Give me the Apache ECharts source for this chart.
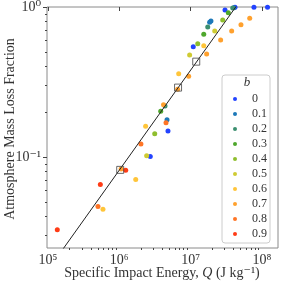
<!DOCTYPE html>
<html>
<head>
<meta charset="utf-8">
<script src="https://cdn.jsdelivr.net/npm/echarts@6/dist/echarts.min.js"></script>
<style>html,body{margin:0;padding:0;background:#fff}#c{width:284px;height:286px}</style>
</head>
<body>
<div id="c"></div>
<script>
// ---- data ----
const bLabels = ['0','0.1','0.2','0.3','0.4','0.5','0.6','0.7','0.8','0.9'];
const pointQ = [3.04e7,4.2e7,3.9e7,4.05e7,3.38e7,7.74e7,1.2e8,6.75e7,5.09e7,3.77e7,
  2.82e7,1.93e7,1.85e7,1.74e7,2.18e7,1.53e7,2.64e7,1.26e7,1.09e7,1.53e7,
  1.68e7,9.7e6,6.81e6,9.4e6,6.59e6,4.17e6,4.38e6,3.81e6,4.67e6,4.52e6,
  2.34e6,4.82e6,3.14e6,2.01e6,2.42e6,2.72e6,1.06e6,1.23e6,1.70e6,5.42e5,
  5.02e5,5.90e5,1.35e5];
const pointF = [0.955,0.995,0.985,0.99,0.916,0.995,0.995,0.841,0.762,0.692,
  0.819,0.807,0.791,0.736,0.692,0.658,0.603,0.569,0.544,0.552,
  0.486,0.479,0.359,0.345,0.283,0.223,0.219,0.202,0.177,0.169,
  0.160,0.149,0.143,0.122,0.102,0.1005,0.0832,0.0815,0.0706,0.0654,
  0.0467,0.0448,0.0327];
const pointB = ['0','0','0.2','0.1','0.3','0','0','0.7','0.7','0.7',
  '0.4','0.1','0.1','0.2','0.5','0.3','0.7','0.4','0','0.6',
  '0.7','0.5','0.6','0.7','0.7','0.7','0.2','0.3','0.1','0.8',
  '0.6','0','0.4','0.8','0.5','0','0.7','0.9','0.6','0.9',
  '0.8','0.6','0.9'];
const squareQ = [1.03e6, 6.67e6, 1.2e7];
const squareF = [0.082, 0.29, 0.432];
const lineQ = [1.0e5, 1.0e8];
const lineF = [0.0176, 1.757];
const xTickExps = [5, 6, 7, 8];
const yTickExps = [-1, 0];

// ---- style ----
const palette = ['#2343ff','#1c78b8','#3b8f6f','#4ea72c','#8fbe2e','#cfcb33','#ffc53a','#ffa12e','#ff7526','#ff3c16'];
const FONT = '"Liberation Serif", "DejaVu Serif", serif';
const TXT = '#333';

const xMin = 9.68e4, xMax = 1.683e8, yMin = 0.0247, yMax = 1;
const L = Math.log10;
const supMap = {'0':'⁰','1':'¹','2':'²','3':'³','4':'⁴','5':'⁵','6':'⁶','7':'⁷','8':'⁸','9':'⁹','-':'⁻'};
const sup = v => String(Math.round(v)).split('').map(c => supMap[c]).join('');
function minors(lo, hi) {
  const out = [];
  for (let n = Math.floor(lo) - 1; n <= Math.ceil(hi); n++) {
    for (let k = 2; k <= 9; k++) {
      const v = n + L(k);
      if (v > lo && v < hi) out.push(v);
    }
  }
  return out;
}

const series = bLabels.map((b, i) => ({
  type: 'scatter', name: b, xAxisIndex: 0, yAxisIndex: 0,
  symbolSize: 5, z: 2,
  itemStyle: { color: palette[i], opacity: 1 },
  data: pointQ.map((q, j) => [q, pointF[j], pointB[j]]).filter(d => d[2] === b).map(d => [d[0], d[1]])
}));
series.push({
  type: 'line', name: 'fit', xAxisIndex: 0, yAxisIndex: 0, z: 3,
  showSymbol: false, silent: true, clip: true,
  lineStyle: { color: '#222', width: 1 },
  data: lineQ.map((q, i) => [q, lineF[i]])
});
series.push({
  type: 'scatter', name: 'sq', xAxisIndex: 0, yAxisIndex: 0, z: 4,
  symbol: 'rect', symbolSize: 7, silent: true,
  itemStyle: { color: 'rgba(0,0,0,0)', borderColor: '#444', borderWidth: 1 },
  data: squareQ.map((q, i) => [q, squareF[i]])
});

const chart = echarts.init(document.getElementById('c'), null, { renderer: 'canvas' });
chart.setOption({
  animation: false,
  backgroundColor: '#fff',
  grid: { left: 47, top: 7, right: 6, bottom: 38, show: true, borderColor: '#8a8a8a', borderWidth: 1 },
  xAxis: [
    { type: 'log', min: xMin, max: xMax, show: false, splitLine: { show: false } },
    { type: 'value', min: L(xMin), max: L(xMax), position: 'bottom',
      axisLine: { show: false }, splitLine: { show: false },
      axisTick: { show: true, customValues: xTickExps, length: 4, lineStyle: { color: '#444' } },
      axisLabel: { show: true, customValues: xTickExps, margin: 5, formatter: v => '10' + sup(v),
        fontFamily: FONT, fontSize: 14, color: TXT } },
    { type: 'value', min: L(xMin), max: L(xMax), position: 'bottom',
      axisLine: { show: false }, splitLine: { show: false },
      axisTick: { show: true, customValues: minors(L(xMin), L(xMax)), length: 2, lineStyle: { color: '#444' } },
      axisLabel: { show: false } }
  ],
  yAxis: [
    { type: 'log', min: yMin, max: yMax, show: false, splitLine: { show: false } },
    { type: 'value', min: L(yMin), max: L(yMax), position: 'left',
      axisLine: { show: false }, splitLine: { show: false },
      axisTick: { show: true, customValues: yTickExps, length: 4, lineStyle: { color: '#444' } },
      axisLabel: { show: true, customValues: yTickExps, margin: 6, formatter: v => '10' + sup(v),
        fontFamily: FONT, fontSize: 14, color: TXT } },
    { type: 'value', min: L(yMin), max: L(yMax), position: 'left',
      axisLine: { show: false }, splitLine: { show: false },
      axisTick: { show: true, customValues: minors(L(yMin), L(yMax)), length: 2, lineStyle: { color: '#444' } },
      axisLabel: { show: false } }
  ],
  legend: {
    data: bLabels, orient: 'vertical', left: 222, top: 75,
    padding: [17, 3, 2, 11], itemWidth: 24, itemHeight: 4, itemGap: 1,
    icon: 'circle',
    backgroundColor: 'rgba(255,255,255,0.85)', borderColor: '#cccccc', borderWidth: 1, borderRadius: 3,
    textStyle: { fontFamily: FONT, fontSize: 12, color: TXT, lineHeight: 14 }
  },
  graphic: [
    { type: 'text', x: 247, y: 83, z: 100,
      style: { text: 'b', font: 'italic 13px ' + FONT, fill: TXT, align: 'center', verticalAlign: 'middle' } },
    { type: 'text', x: 10, y: 129, rotation: Math.PI / 2, z: 100,
      style: { text: 'Atmosphere Mass Loss Fraction', font: '14px ' + FONT, fill: TXT, align: 'center', verticalAlign: 'middle' } },
    { type: 'text', x: 162, y: 273, z: 100,
      style: { text: '{n|Specific Impact Energy, }{i|Q}{n| (J kg⁻¹)}', align: 'center', verticalAlign: 'middle',
        rich: { n: { font: '14px ' + FONT, fill: TXT }, i: { font: 'italic 14px ' + FONT, fill: TXT } } } }
  ],
  series: series
});
</script>
</body>
</html>
